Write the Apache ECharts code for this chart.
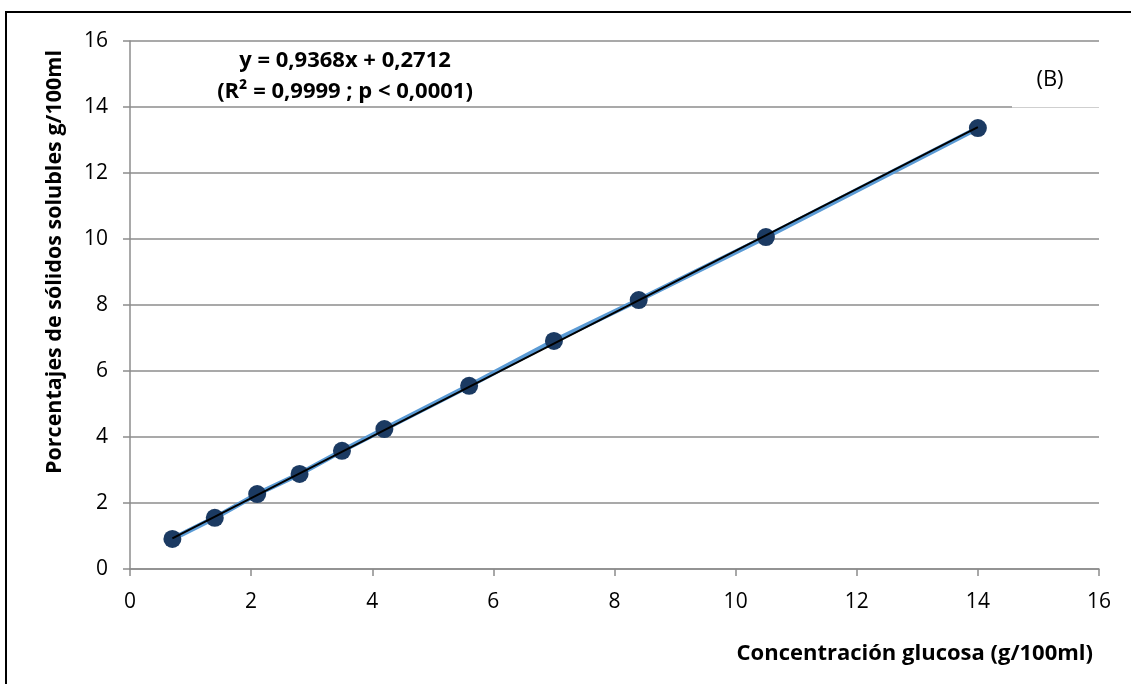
<!DOCTYPE html>
<html>
<head>
<meta charset="utf-8">
<script src="https://cdn.jsdelivr.net/npm/echarts@6/dist/echarts.min.js"></script>
<style>
  html, body { margin: 0; padding: 0; background: #fff; }
  #main { width: 1131px; height: 684px; }
</style>
</head>
<body>
<div id="main"></div>
<script>
// datos
var glucosa = [0.7, 1.4, 2.1, 2.8, 3.5, 4.2, 5.6, 7.0, 8.4, 10.5, 14.0];
var solidos = [0.91, 1.55, 2.27, 2.88, 3.58, 4.24, 5.55, 6.91, 8.15, 10.06, 13.36];
// extremos de la línea de tendencia
var tendenciaX = [0.7, 14.0];
var tendenciaY = [0.93, 13.39];
var ecuacion = ['y = 0,9368x + 0,2712', '(R² = 0,9999 ; p < 0,0001)'];

var fuente = '"Open Sans", "Liberation Sans", sans-serif';

var myChart = echarts.init(document.getElementById('main'));

var puntos = glucosa.map(function (x, i) { return [x, solidos[i]]; });
var tendencia = tendenciaX.map(function (x, i) { return [x, tendenciaY[i]]; });

var option = {
    animation: false,
    grid: { left: 130, right: 32, top: 41, bottom: 115 },
    xAxis: {
        type: 'value', min: 0, max: 16, interval: 2,
        name: 'Concentración glucosa (g/100ml)',
        nameLocation: 'end',
        nameGap: 0,
        nameTextStyle: {
            fontFamily: fuente, fontWeight: 'bold', fontSize: 22, color: '#000',
            align: 'right', verticalAlign: 'top', padding: [74, 6, 0, 0]
        },
        axisLine: { lineStyle: { color: '#8c8c8c', width: 1.5 } },
        axisTick: { show: true, length: 7, lineStyle: { color: '#8c8c8c', width: 1.5 } },
        axisLabel: { fontFamily: fuente, fontSize: 21, color: '#000', margin: 23 },
        splitLine: { show: false }
    },
    yAxis: {
        type: 'value', min: 0, max: 16, interval: 2,
        name: 'Porcentajes de sólidos solubles g/100ml',
        nameLocation: 'middle',
        nameGap: 64,
        nameTextStyle: { fontFamily: fuente, fontWeight: 'bold', fontSize: 21.5, color: '#000', padding: [0, 0, 0, 86] },
        axisLine: { show: true, lineStyle: { color: '#8c8c8c', width: 1.5 } },
        axisTick: { show: true, length: 7, lineStyle: { color: '#8c8c8c', width: 1.5 } },
        axisLabel: { fontFamily: fuente, fontSize: 21, color: '#000', margin: 22 },
        splitLine: { lineStyle: { color: '#8c8c8c', width: 1.5 } }
    },
    graphic: [
        {
            type: 'rect', silent: true, z: 100,
            shape: { x: 6, y: 12, width: 1140, height: 700 },
            style: { fill: 'none', stroke: '#000', lineWidth: 2 }
        },
        // cuadro del texto (B) que tapa parte de la línea de 14
        {
            type: 'rect', silent: true, z: 90,
            shape: { x: 1012, y: 104, width: 90, height: 6 },
            style: { fill: '#fff' }
        },
        {
            type: 'line', silent: true, z: 91,
            shape: { x1: 1012, y1: 107.5, x2: 1099, y2: 107.5 },
            style: { stroke: '#cfcfcf', lineWidth: 1 }
        },
        {
            type: 'text', x: 345, y: 45, z: 100,
            style: {
                text: ecuacion.join('\n'), font: 'bold 22px ' + fuente, fill: '#000',
                textAlign: 'center', textVerticalAlign: 'top', lineHeight: 31
            }
        },
        {
            type: 'text', x: 1050, y: 80, z: 100,
            style: { text: '(B)', font: '22px ' + fuente, fill: '#000', textAlign: 'center', textVerticalAlign: 'middle' }
        }
    ],
    series: [
        {
            name: 'datos',
            type: 'line',
            data: puntos,
            symbol: 'circle',
            symbolSize: 18,
            lineStyle: { color: '#5b9bd5', width: 5 },
            itemStyle: { color: '#1b3a62' },
            z: 2
        },
        {
            name: 'tendencia',
            type: 'line',
            data: tendencia,
            symbol: 'none',
            lineStyle: { color: '#000', width: 2 },
            z: 3
        }
    ]
};

myChart.setOption(option);
</script>
</body>
</html>
